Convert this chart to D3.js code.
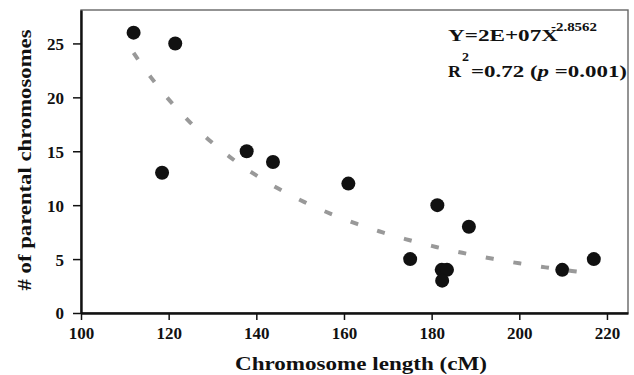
<!DOCTYPE html>
<html>
<head>
<meta charset="utf-8">
<script src="https://cdn.jsdelivr.net/npm/d3@7/dist/d3.min.js"></script>
<style>
  body { margin: 0; background: #fff; }
  svg { display: block; font-family: "Liberation Serif", "Times New Roman", serif; font-weight: bold; }
</style>
</head>
<body>
<svg class="chart" width="634" height="375"></svg>
<script>
// chromosome length (cM) vs number of parental chromosomes
var lengthCM = [112, 121.5, 118.5, 137.8, 143.8, 161, 181.3, 188.5, 175.1, 182.3, 183.5, 182.4, 209.8, 217];
var parentCount = [26, 25, 13, 15, 14, 12, 10, 8, 5, 4, 4, 3, 4, 5];
var xTicks = [100, 120, 140, 160, 180, 200, 220];
var yTicks = [0, 5, 10, 15, 20, 25];

// power fit shown in the chart: Y = a * X^b
var fitA = 1.72e7, fitB = -2.8562;
var fitRange = [112, 217];

var vis = d3.select(".chart"),
    WIDTH = 634,
    HEIGHT = 375,
    MARGINS = { top: 10, right: 6, bottom: 62, left: 81 };

var xScale = d3.scaleLinear().domain([100, 224.8]).range([MARGINS.left, WIDTH - MARGINS.right]),
    yScale = d3.scaleLinear().domain([0, 28.1]).range([HEIGHT - MARGINS.bottom, MARGINS.top]);

// frame (thin top / right)
vis.append("rect")
    .attr("x", MARGINS.left)
    .attr("y", MARGINS.top)
    .attr("width", WIDTH - MARGINS.right - MARGINS.left)
    .attr("height", HEIGHT - MARGINS.bottom - MARGINS.top)
    .attr("fill", "none")
    .attr("stroke", "#666")
    .attr("stroke-width", 1.4);

var xAxis = d3.axisBottom(xScale).tickValues(xTicks).tickSize(7).tickPadding(7).tickSizeOuter(0),
    yAxis = d3.axisLeft(yScale).tickValues(yTicks).tickSize(8).tickPadding(9).tickSizeOuter(0);

var gx = vis.append("g")
    .attr("transform", "translate(0," + (HEIGHT - MARGINS.bottom) + ")")
    .call(xAxis);
var gy = vis.append("g")
    .attr("transform", "translate(" + MARGINS.left + ",0)")
    .call(yAxis);

[gx, gy].forEach(function(g) {
  g.select(".domain").attr("stroke", "#111").attr("stroke-width", 2.4);
  g.selectAll(".tick line").attr("stroke", "#111").attr("stroke-width", 1.5);
  g.selectAll(".tick text")
      .attr("fill", "#111")
      .style("font-family", "Liberation Serif, serif")
      .style("font-weight", "bold")
      .style("font-size", "17px");
});
gy.selectAll(".tick text").attr("dy", "0.35em");

// points
vis.append("g").selectAll("circle")
    .data(lengthCM)
    .enter().append("circle")
    .attr("cx", function(d) { return xScale(d); })
    .attr("cy", function(d, i) { return yScale(parentCount[i]); })
    .attr("r", 7)
    .attr("fill", "#111");

// fitted curve
var fitPts = d3.range(fitRange[0], fitRange[1] + 0.5, 1).map(function(x) {
  return [x, fitA * Math.pow(x, fitB)];
});
var lineGen = d3.line()
    .x(function(d) { return xScale(d[0]); })
    .y(function(d) { return yScale(d[1]); });

vis.append("path")
    .attr("d", lineGen(fitPts))
    .attr("fill", "none")
    .attr("stroke", "#999")
    .attr("stroke-width", 4)
    .attr("stroke-dasharray", "8,20");

// equation (text in the figure is wide, so stretch it with textLength)
function label(x, y, size, txt, len) {
  return vis.append("text")
      .attr("x", x)
      .attr("y", y)
      .attr("fill", "#111")
      .attr("textLength", len)
      .attr("lengthAdjust", "spacingAndGlyphs")
      .style("font-size", size + "px")
      .text(txt);
}

label(448, 41, 17.5, "Y=2E+07X", 110);
label(551, 31, 11.5, "-2.8562", 46);
label(448, 77, 17.5, "R", 13);
label(462, 61, 11.5, "2", 7);

var r2 = vis.append("text")
    .attr("x", 471)
    .attr("y", 77)
    .attr("fill", "#111")
    .attr("textLength", 156)
    .attr("lengthAdjust", "spacingAndGlyphs")
    .style("font-size", "17.5px");
r2.append("tspan").text("=0.72 (");
r2.append("tspan").style("font-style", "italic").text("p");
r2.append("tspan").text(" =0.001)");

// axis titles
label(361, 370, 19, "Chromosome length (cM)", 252)
    .attr("text-anchor", "middle");

vis.append("text")
    .attr("transform", "translate(31,160) rotate(-90)")
    .attr("text-anchor", "middle")
    .attr("fill", "#111")
    .attr("textLength", 261)
    .attr("lengthAdjust", "spacingAndGlyphs")
    .style("font-size", "19px")
    .text("# of parental chromosomes");
</script>
</body>
</html>
